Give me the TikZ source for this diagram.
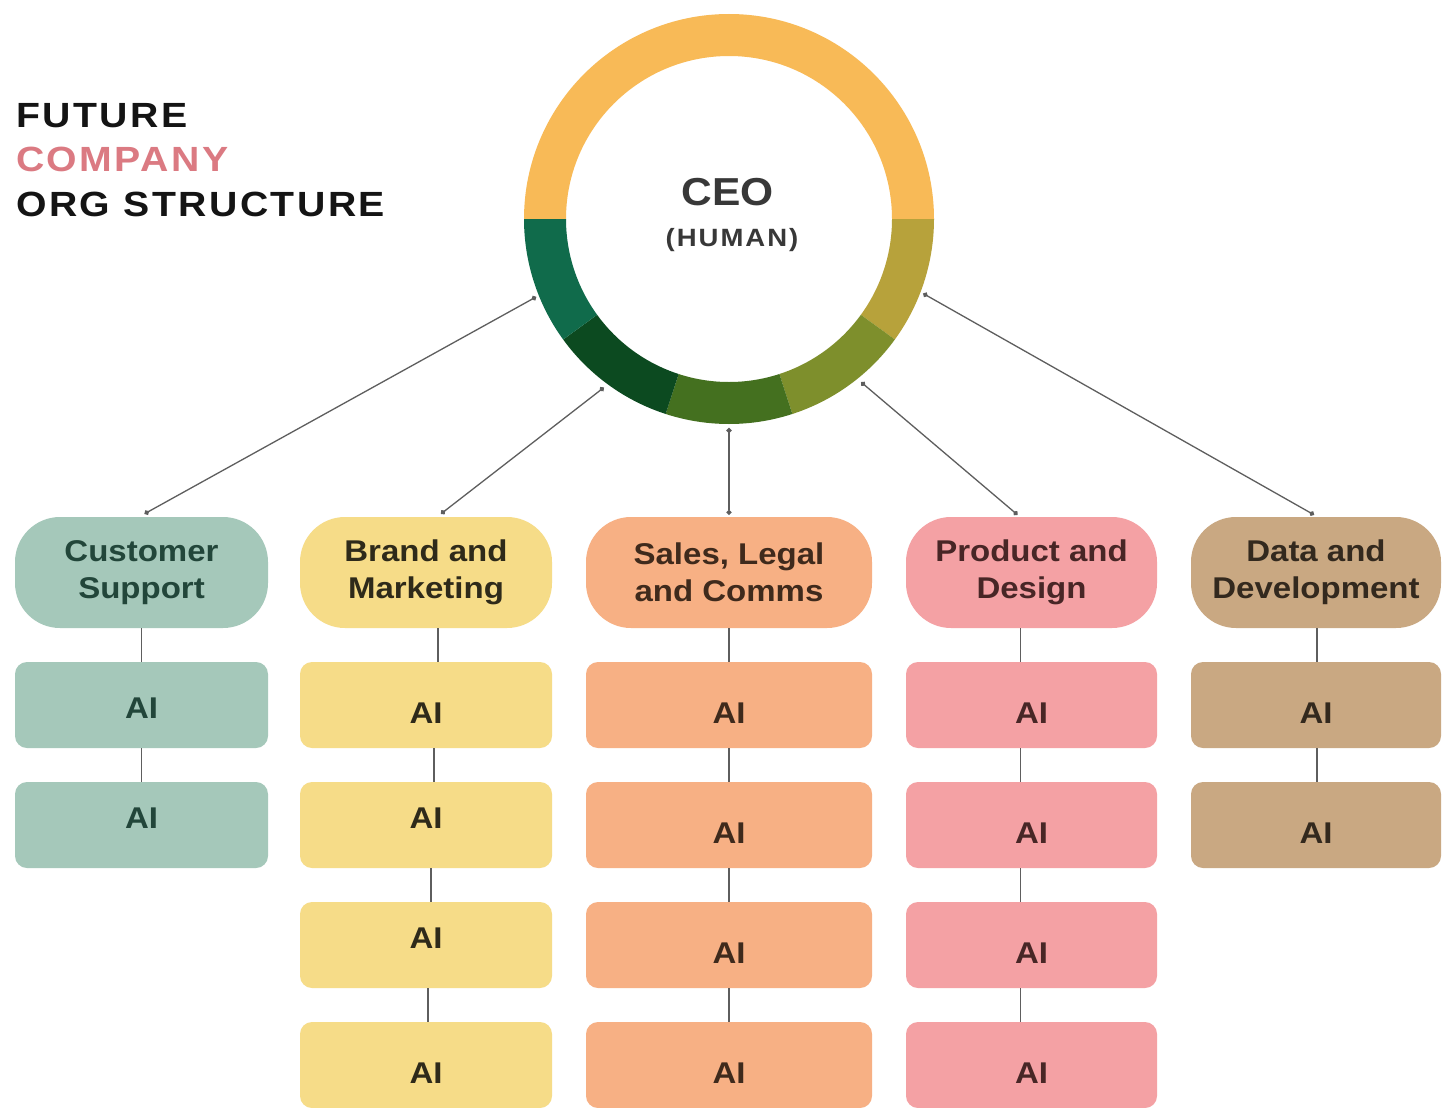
\documentclass[tikz,border=0pt]{standalone}
\usepackage{fontspec}
\setmainfont{Liberation Sans}
\newfontfamily\titlefont[FakeStretch=1.12,LetterSpace=7]{Liberation Sans}
\newfontfamily\boxfont[FakeStretch=1.1]{Liberation Sans}
\newfontfamily\ceofont[FakeStretch=1.09]{Liberation Sans}
\newfontfamily\humfont[FakeStretch=1.1,LetterSpace=8]{Liberation Sans}
\usetikzlibrary{arrows.meta}
\definecolor{ringY}{HTML}{F8BA57}
\definecolor{ringM}{HTML}{B7A23B}
\definecolor{ringO}{HTML}{7E8F2C}
\definecolor{ringG}{HTML}{44701F}
\definecolor{ringD}{HTML}{0C4A20}
\definecolor{ringT}{HTML}{106B4B}
\definecolor{csF}{HTML}{A5C8BA}
\definecolor{csT}{HTML}{22463A}
\definecolor{bmF}{HTML}{F6DC88}
\definecolor{bmT}{HTML}{2E2A1A}
\definecolor{slF}{HTML}{F7B084}
\definecolor{slT}{HTML}{3F2A1C}
\definecolor{pdF}{HTML}{F4A1A4}
\definecolor{pdT}{HTML}{482626}
\definecolor{ddF}{HTML}{C9A882}
\definecolor{ddT}{HTML}{33291E}
\definecolor{titleK}{HTML}{141414}
\definecolor{titleP}{HTML}{DB7A82}
\definecolor{ceoT}{HTML}{383838}
\definecolor{linkC}{HTML}{5E5E5E}
\begin{document}
\begin{tikzpicture}[x=1pt,y=-1pt,
  hdr/.style={rounded corners=45pt, minimum height=111pt, inner sep=0pt, align=center,
    font=\boxfont\bfseries\fontsize{30}{37}\selectfont},
  aib/.style={rounded corners=12pt, minimum height=86pt, inner sep=0pt,
    font=\boxfont\bfseries\fontsize{30}{36}\selectfont},
  lo/.style={text height=37.5pt, text depth=0pt},
  lm/.style={text height=27.5pt, text depth=0pt},
  hi/.style={text height=7.5pt, text depth=0pt},
  link/.style={draw=linkC, line width=1.3pt},
  dotlink/.style={link, {Circle[length=5pt]}-{Circle[length=5pt]}},
  ttl/.style={anchor=base west, inner sep=0pt, font=\titlefont\bfseries\fontsize{35}{40}\selectfont}
]
\useasboundingbox (0,0) rectangle (1443,1108);
\fill[white] (0,0) rectangle (1443,1108);

% Title
\node[ttl, text=titleK] (t1) at (16,127) {FUTURE};
\node[ttl, text=titleP] (t2) at (16,171) {COMPANY};
\node[ttl, text=titleK] (t3) at (16,216) {ORG STRUCTURE};

% Ring
\coordinate (ring) at (729,219);
\begin{scope}[shift={(729,219)}]
  \fill[ringY] (180:205) arc[start angle=180,end angle=360,radius=205] -- (0:163) arc[start angle=360,end angle=180,radius=163] -- cycle;
  \fill[ringM] (0:205) arc[start angle=0,end angle=36,radius=205] -- (36:163) arc[start angle=36,end angle=0,radius=163] -- cycle;
  \fill[ringO] (36:205) arc[start angle=36,end angle=72,radius=205] -- (72:163) arc[start angle=72,end angle=36,radius=163] -- cycle;
  \fill[ringG] (72:205) arc[start angle=72,end angle=108,radius=205] -- (108:163) arc[start angle=108,end angle=72,radius=163] -- cycle;
  \fill[ringD] (108:205) arc[start angle=108,end angle=144,radius=205] -- (144:163) arc[start angle=144,end angle=108,radius=163] -- cycle;
  \fill[ringT] (144:205) arc[start angle=144,end angle=180,radius=205] -- (180:163) arc[start angle=180,end angle=144,radius=163] -- cycle;
\end{scope}
\node[anchor=base, inner sep=0pt, text=ceoT, font=\ceofont\bfseries\fontsize{39}{44}\selectfont] (ceo) at (727.5,205) {CEO};
\node[anchor=base, inner sep=0pt, text=ceoT, font=\humfont\bfseries\fontsize{25}{28}\selectfont] (human) at (732,246) {(HUMAN)};

\coordinate (c1) at ([shift={(158:208)}]ring);
\coordinate (c2) at ([shift={(126.6:210)}]ring);
\coordinate (c3) at ([shift={(90:209)}]ring);
\coordinate (c4) at ([shift={(51:210)}]ring);
\coordinate (c5) at ([shift={(21:208)}]ring);

% Column 1: Customer Support
\node[hdr, fill=csF, text=csT, minimum width=253pt] (h1) at (141.5,572.5) {Customer\\Support};
\node[aib, lm, fill=csF, text=csT, minimum width=253pt] (a11) at (141.5,705) {AI};
\node[aib, hi, fill=csF, text=csT, minimum width=253pt] (a12) at (141.5,825) {AI};

% Column 2: Brand and Marketing
\node[hdr, fill=bmF, text=bmT, minimum width=252pt] (h2) at (426,572.5) {Brand and\\Marketing};
\node[aib, lo, fill=bmF, text=bmT, minimum width=252pt] (a21) at (426,705) {AI};
\node[aib, hi, fill=bmF, text=bmT, minimum width=252pt] (a22) at (426,825) {AI};
\node[aib, hi, fill=bmF, text=bmT, minimum width=252pt] (a23) at (426,945) {AI};
\node[aib, lo, fill=bmF, text=bmT, minimum width=252pt] (a24) at (426,1065) {AI};

% Column 3: Sales, Legal and Comms
\node[hdr, fill=slF, text=slT, minimum width=286pt] (h3) at (729,572.5) {Sales, Legal\\and Comms};
\node[aib, lo, fill=slF, text=slT, minimum width=286pt] (a31) at (729,705) {AI};
\node[aib, lo, fill=slF, text=slT, minimum width=286pt] (a32) at (729,825) {AI};
\node[aib, lo, fill=slF, text=slT, minimum width=286pt] (a33) at (729,945) {AI};
\node[aib, lo, fill=slF, text=slT, minimum width=286pt] (a34) at (729,1065) {AI};

% Column 4: Product and Design
\node[hdr, fill=pdF, text=pdT, minimum width=251pt] (h4) at (1031.5,572.5) {Product and\\Design};
\node[aib, lo, fill=pdF, text=pdT, minimum width=251pt] (a41) at (1031.5,705) {AI};
\node[aib, lo, fill=pdF, text=pdT, minimum width=251pt] (a42) at (1031.5,825) {AI};
\node[aib, lo, fill=pdF, text=pdT, minimum width=251pt] (a43) at (1031.5,945) {AI};
\node[aib, lo, fill=pdF, text=pdT, minimum width=251pt] (a44) at (1031.5,1065) {AI};

% Column 5: Data and Development
\node[hdr, fill=ddF, text=ddT, minimum width=250pt] (h5) at (1316,572.5) {Data and\\Development};
\node[aib, lo, fill=ddF, text=ddT, minimum width=250pt] (a51) at (1316,705) {AI};
\node[aib, lo, fill=ddF, text=ddT, minimum width=250pt] (a52) at (1316,825) {AI};

% Connectors from CEO ring to headers
\draw[dotlink] (c1) -- ([xshift=3pt,yshift=3pt]h1.north);
\draw[dotlink] (c2) -- ([xshift=15pt,yshift=3pt]h2.north);
\draw[dotlink] (c3) -- ([yshift=2pt]h3.north);
\draw[dotlink] (c4) -- ([xshift=-14pt,yshift=2pt]h4.north);
\draw[dotlink] (c5) -- ([xshift=-2pt,yshift=2pt]h5.north);

% Column connectors
\draw[link] (h1.south) -- (a11.north);
\draw[link] (a11.south) -- (a12.north);
\draw[link] ([xshift=12pt]h2.south) -- ([xshift=12pt]a21.north);
\draw[link] ([xshift=8pt]a21.south) -- ([xshift=8pt]a22.north);
\draw[link] ([xshift=5pt]a22.south) -- ([xshift=5pt]a23.north);
\draw[link] ([xshift=2pt]a23.south) -- ([xshift=2pt]a24.north);
\draw[link] (h3.south) -- (a31.north);
\draw[link] (a31.south) -- (a32.north);
\draw[link] (a32.south) -- (a33.north);
\draw[link] (a33.south) -- (a34.north);
\draw[link] ([xshift=-11pt]h4.south) -- ([xshift=-11pt]a41.north);
\draw[link] ([xshift=-11pt]a41.south) -- ([xshift=-11pt]a42.north);
\draw[link] ([xshift=-11pt]a42.south) -- ([xshift=-11pt]a43.north);
\draw[link] ([xshift=-11pt]a43.south) -- ([xshift=-11pt]a44.north);
\draw[link] ([xshift=1pt]h5.south) -- ([xshift=1pt]a51.north);
\draw[link] ([xshift=1pt]a51.south) -- ([xshift=1pt]a52.north);
\end{tikzpicture}
\end{document}
